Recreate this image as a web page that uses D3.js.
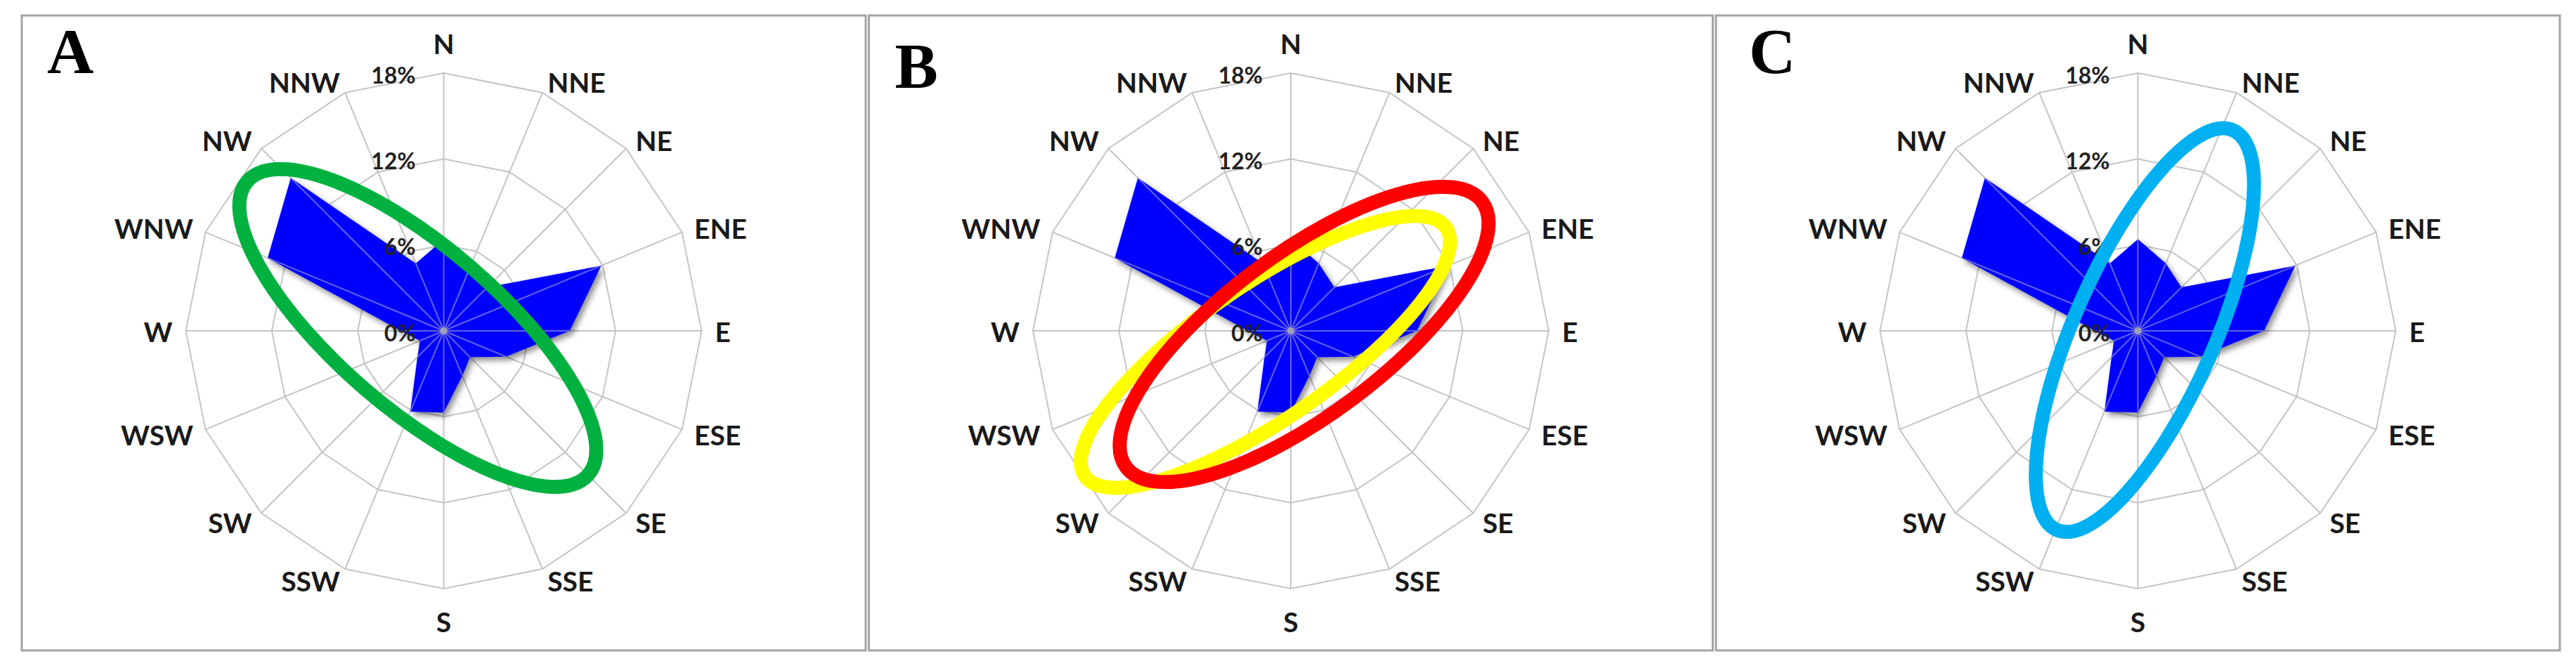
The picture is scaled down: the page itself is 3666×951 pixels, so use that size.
<!DOCTYPE html>
<html>
<head>
<meta charset="utf-8">
<script src="https://cdn.jsdelivr.net/npm/d3@7"></script>
<style>
  body { margin: 0; background: #fff; }
  .dir { font-family: Lato, "Liberation Sans", sans-serif; font-weight: bold; fill: #1a1a1a; }
  .tick { font-family: Lato, "Liberation Sans", sans-serif; font-weight: bold; fill: #222; }
  .letter { font-family: "Liberation Serif", "Times New Roman", serif; font-weight: bold; fill: #000; }
</style>
</head>
<body>
<script>
// wind directions, clockwise from north
var directions = ["N", "NNE", "NE", "ENE", "E", "ESE", "SE", "SSE",
                  "S", "SSW", "SW", "WSW", "W", "WNW", "NW", "NNW"];

// frequency (%) for each direction, same rose in all three panels
var frequency = [6.4, 5.1, 4.3, 11.9, 8.8, 4.7, 2.6, 3.4,
                 5.7, 6.1, 2.6, 1.8, 3.0, 13.3, 15.1, 5.1];

// radial axis
var ticks = [0, 6, 12, 18];
var tickLabels = ["0%", "6%", "12%", "18%"];

// panel names
var panelNames = ["A", "B", "C"];

// highlight ellipses drawn over each rose (centre offset and semi axes in % units)
var annotations = [
  [ {cx: -1.81, cy: -0.20, rx: 15.7, ry: 5.64, rot: 40.7, color: "#00b140"} ],
  [ {cx: -1.77, cy: 1.47, rx: 15.3, ry: 4.70, rot: -34.5, color: "#ffff00"},
    {cx: 0.93, cy: 0.25, rx: 15.5, ry: 5.64, rot: -36.7, color: "#ff0000"} ],
  [ {cx: 0.49, cy: -0.05, rx: 15.25, ry: 4.90, rot: -66.2, color: "#00b0f0"} ]
];

// set the dimensions of the page
var width = 3666, height = 951;
var panelW = 1201, panelTop = 22, panelH = 904;
var centerY = 471, outer = 367;
var letterPos = [{dx: 36, y: 104}, {dx: 37, y: 125}, {dx: 47, y: 104}];

var svg = d3.select("body")
  .append("svg")
    .attr("width", width)
    .attr("height", height);

svg.append("rect")
  .attr("width", width)
  .attr("height", height)
  .attr("fill", "#fff");

// drop shadow for the filled area
var defs = svg.append("defs");
defs.append("filter")
    .attr("id", "shadow")
    .attr("x", "-20%").attr("y", "-20%")
    .attr("width", "140%").attr("height", "140%")
  .append("feDropShadow")
    .attr("dx", 4)
    .attr("dy", 5)
    .attr("stdDeviation", 4)
    .attr("flood-color", "#000")
    .attr("flood-opacity", 0.45);

// scales
var angle = d3.scaleLinear()
  .domain([0, directions.length])
  .range([0, 2 * Math.PI]);

var r = d3.scaleLinear()
  .domain([0, d3.max(ticks)])
  .range([0, outer]);

var radial = d3.lineRadial()
  .angle(function(d, i) { return angle(i); })
  .radius(function(d) { return r(d); })
  .curve(d3.curveLinearClosed);

panelNames.forEach(function(name, p) {
  var left = 31 + p * 1205.5;
  var cx = left + panelW / 2;

  // panel frame
  svg.append("rect")
    .attr("x", left)
    .attr("y", panelTop)
    .attr("width", panelW)
    .attr("height", panelH)
    .attr("fill", "none")
    .attr("stroke", "#a3a3a3")
    .attr("stroke-width", 3);

  // panel letter
  svg.append("text")
    .attr("class", "letter")
    .attr("x", left + letterPos[p].dx)
    .attr("y", letterPos[p].y)
    .style("font-size", "92px")
    .text(name);

  var g = svg.append("g")
    .attr("transform", "translate(" + cx + "," + centerY + ")");

  // grid rings
  g.selectAll(".ring")
    .data(ticks.slice(1))
    .enter()
    .append("path")
      .attr("class", "ring")
      .attr("d", function(t) { return radial(directions.map(function() { return t; })); })
      .attr("fill", "none")
      .attr("stroke", "#c4c4c4")
      .attr("stroke-width", 2);

  // spokes
  var spokes = function(sel) {
    sel.selectAll("line")
      .data(directions)
      .enter()
      .append("line")
        .attr("x1", 0).attr("y1", 0)
        .attr("x2", function(d, i) { return r(d3.max(ticks)) * Math.sin(angle(i)); })
        .attr("y2", function(d, i) { return -r(d3.max(ticks)) * Math.cos(angle(i)); })
        .attr("stroke", "#c4c4c4")
        .attr("stroke-width", 2);
  };
  g.append("g").call(spokes);

  // filled rose
  g.append("path")
    .datum(frequency)
    .attr("d", radial)
    .attr("fill", "#0000ff")
    .attr("filter", "url(#shadow)");

  // spokes show through the fill
  defs.append("clipPath")
      .attr("id", "clip" + name)
    .append("path")
      .datum(frequency)
      .attr("d", radial);
  g.append("g")
    .attr("clip-path", "url(#clip" + name + ")")
    .attr("opacity", 0.5)
    .call(spokes);

  g.append("circle")
    .attr("r", 5)
    .attr("fill", "#a0a0b4");

  // direction labels
  var fs = 39, capH = 0.72 * fs;
  g.selectAll(".dir")
    .data(directions)
    .enter()
    .append("text")
      .attr("class", "dir")
      .style("font-size", fs + "px")
      .attr("text-anchor", function(d, i) {
        var s = Math.sin(angle(i));
        return Math.abs(s) < 0.01 ? "middle" : (s > 0 ? "start" : "end");
      })
      .attr("x", function(d, i) {
        var s = Math.sin(angle(i));
        return r(d3.max(ticks)) * s + (s >= 0 ? 1 : -1) * 19 * Math.abs(s);
      })
      .attr("y", function(d, i) {
        var s = Math.sin(angle(i)), c = Math.cos(angle(i));
        var py = -r(d3.max(ticks)) * c;
        var mid = py + 2 - 17.5 * c;
        if (Math.abs(s) < 0.01) mid += (c > 0 ? -26 : 28);
        return mid + capH / 2;
      })
      .text(function(d) { return d; });

  // radial tick labels
  g.selectAll(".tick")
    .data(ticks)
    .enter()
    .append("text")
      .attr("class", "tick")
      .style("font-size", "32px")
      .attr("text-anchor", "end")
      .attr("x", -40)
      .attr("y", function(t) { return -r(t) + 3 + 11.5; })
      .text(function(t, i) { return tickLabels[i]; });

  // highlight ellipses
  g.selectAll(".mark")
    .data(annotations[p])
    .enter()
    .append("ellipse")
      .attr("class", "mark")
      .attr("cx", 0).attr("cy", 0)
      .attr("rx", function(d) { return r(d.rx); })
      .attr("ry", function(d) { return r(d.ry); })
      .attr("transform", function(d) {
        return "translate(" + r(d.cx) + "," + r(d.cy) + ") rotate(" + d.rot + ")";
      })
      .attr("fill", "none")
      .attr("stroke", function(d) { return d.color; })
      .attr("stroke-width", 20);
});
</script>
</body>
</html>
